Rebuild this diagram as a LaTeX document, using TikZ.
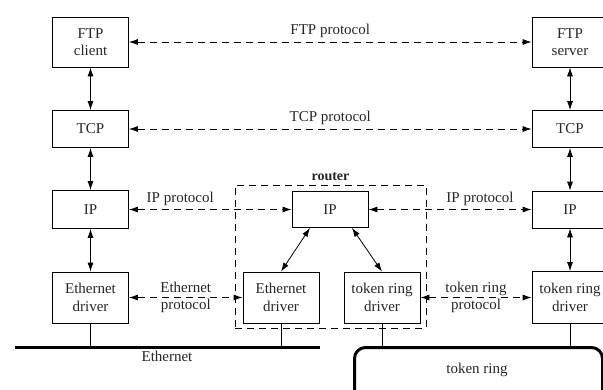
\documentclass[tikz,border=0pt]{standalone}
\usepackage{fontspec}
\setmainfont{Liberation Serif}
\usetikzlibrary{arrows.meta}
\begin{document}
\begin{tikzpicture}[x=1pt,y=-1pt,
  every node/.style={font=\fontsize{15}{17.5}\selectfont, text=black!85},
  layerbox/.style={draw, line width=0.8pt, inner sep=0pt, align=center, minimum width=76pt},
  vlink/.style={line width=0.8pt, {Latex[length=9pt,width=6pt]}-{Latex[length=9pt,width=6pt]}},
  proto/.style={line width=0.8pt, dash pattern=on 7pt off 5pt, {Latex[length=9pt,width=6pt]}-{Latex[length=9pt,width=6pt]}},
  wire/.style={line width=0.8pt},
  net/.style={line width=3pt}]
\path[use as bounding box, clip] (0,0) rectangle (603,389);

% left host
\node[layerbox, minimum height=50pt] (ftpc) at (90.5,42) {FTP\\client};
\node[layerbox, minimum height=37pt] (tcpl) at (90.5,129) {TCP};
\node[layerbox, minimum height=38pt] (ipl) at (90.5,209.5) {IP};
\node[layerbox, minimum height=51pt] (ethl) at (90.5,297.5) {Ethernet\\driver};

% right host
\node[layerbox, minimum height=50pt] (ftps) at (570,42) {FTP\\server};
\node[layerbox, minimum height=37pt] (tcpr) at (570,129) {TCP};
\node[layerbox, minimum height=37pt] (ipr) at (570,209.5) {IP};
\node[layerbox, minimum height=52pt] (trr) at (570,297.5) {token ring\\driver};

% router
\node[draw, line width=0.8pt, dash pattern=on 7pt off 5pt, minimum width=191pt, minimum height=143pt, inner sep=0pt] (router) at (330.5,256.5) {};
\node[font=\bfseries\fontsize{14}{17}\selectfont, anchor=south] (routerlbl) at (router.north) {router};
\node[layerbox, minimum height=36pt] (ipm) at (330,209.5) {IP};
\node[layerbox, minimum height=51pt] (ethm) at (281,297.5) {Ethernet\\driver};
\node[layerbox, minimum height=51pt] (trm) at (382,297.5) {token ring\\driver};

% vertical links
\draw[vlink] (ftpc) -- (tcpl);
\draw[vlink] (tcpl) -- (ipl);
\draw[vlink] (ipl) -- (ethl);
\draw[vlink] (ftps) -- (tcpr);
\draw[vlink] (tcpr) -- (ipr);
\draw[vlink] (ipr) -- (trr);
\draw[vlink] ([xshift=-20pt]ipm.south) -- (ethm.north);
\draw[vlink] ([xshift=22pt]ipm.south) -- (trm.north);

% protocol links
\draw[proto] (ftpc) -- node[above=1pt] (ftpp) {FTP protocol} (ftps);
\draw[proto] (tcpl) -- node[above=1pt] (tcpp) {TCP protocol} (tcpr);
\draw[proto] (ipl) -- node[above=0pt, xshift=-30pt] (ippl) {IP protocol} (ipm);
\draw[proto] (ipm) -- node[above=0pt, xshift=30pt] (ippr) {IP protocol} (ipr);
\draw[proto] (ethl) -- node[align=center] (ethp) {Ethernet\\protocol} (ethm);
\draw[proto] (trm) -- node[align=center] (trp) {token ring\\protocol} (trr);

% networks
\coordinate (ethA) at (15,347.5);
\coordinate (ethB) at (320,347.5);
\draw[net] (ethA) -- (ethB);
\node (ethlbl) at (167,356) {Ethernet};
\draw[wire] (ethl.south) -- (ethl.south |- ethA);
\draw[wire] (ethm.south) -- (ethm.south |- ethA);

\node[draw, net, rounded corners=11pt, minimum width=248pt, minimum height=70pt, anchor=north west] (ring) at (353,346) {};
\node (ringlbl) at (477,370) {token ring};
\draw[wire] (trm.south) -- (trm.south |- ring.north);
\draw[wire] (trr.south) -- (trr.south |- ring.north);
\end{tikzpicture}
\end{document}
